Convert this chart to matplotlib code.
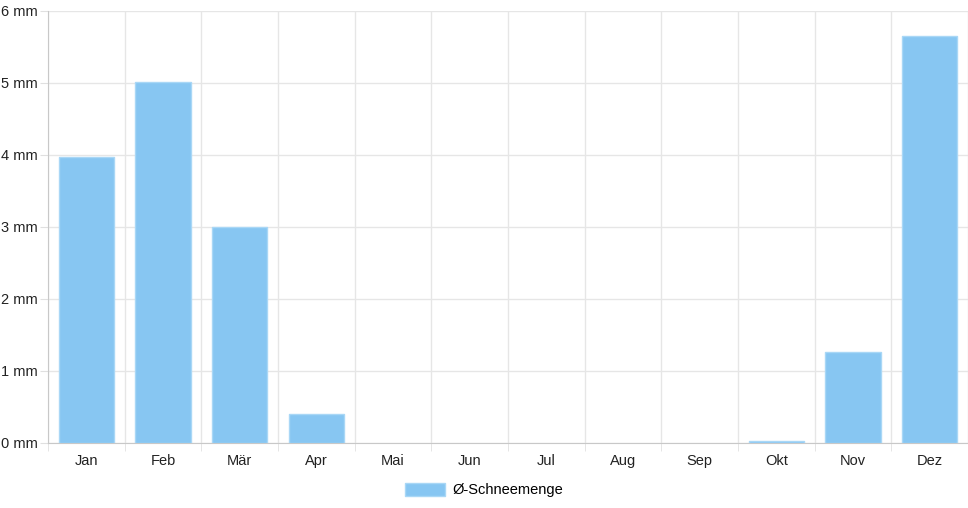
import matplotlib.pyplot as plt
from matplotlib.patches import Patch

# Monatswerte der Schneemenge
monate = ['Jan', 'Feb', 'Mär', 'Apr', 'Mai', 'Jun', 'Jul', 'Aug', 'Sep', 'Okt', 'Nov', 'Dez']
schnee = [3.97, 5.01, 3.0, 0.4, 0, 0, 0, 0, 0, 0.03, 1.26, 5.65]
y_ticks = [0, 1, 2, 3, 4, 5, 6]

plt.rcParams['font.family'] = ['Liberation Sans', 'DejaVu Sans']

fig = plt.figure(figsize=(9.68, 5.08), dpi=100)
ax = fig.add_axes([48 / 968, 1 - 443 / 508, 920 / 968, 432 / 508])

x = list(range(len(monate)))
# Balken ohne Wert bekommen keinen Rand
rand = [1 if v > 0 else 0 for v in schnee]
ax.bar(x, schnee, width=0.72, color='#87c6f2', edgecolor='#a9d7f6', linewidth=rand, zorder=3)

ax.set_xlim(-0.5, len(monate) - 0.5)
ax.set_ylim(0, 6)
ax.set_yticks(y_ticks)
ax.set_yticklabels([f'{v} mm' for v in y_ticks])
ax.set_xticks(x)
ax.set_xticklabels(monate)
ax.set_xticks([i - 0.5 for i in range(len(monate) + 1)], minor=True)

ax.grid(False)
for v in y_ticks:
    ax.axhline(v, color='#e6e6e6', linewidth=1, zorder=1)
for b in range(len(monate) + 1):
    ax.axvline(b - 0.5, color='#e6e6e6', linewidth=1, zorder=1)

for s in ['top', 'right']:
    ax.spines[s].set_visible(False)
ax.spines['left'].set_color('#c8c8c8')
ax.spines['bottom'].set_color('#c8c8c8')

ax.tick_params(axis='x', which='major', length=0, pad=8, labelsize=10.5, labelcolor='#222222')
ax.tick_params(axis='x', which='minor', length=5.8, color='#e0e0e0')
ax.tick_params(axis='y', length=5.8, color='#e0e0e0', pad=1.5, labelsize=10.5, labelcolor='#222222')

leg = fig.legend(handles=[Patch(facecolor='#87c6f2', edgecolor='#a9d7f6', label='Ø-Schneemenge')],
                 loc='center', bbox_to_anchor=(0.5, 1 - 490 / 508), frameon=False,
                 fontsize=10.5, handlelength=2.8, handleheight=1.0, handletextpad=0.5)

fig.savefig('out.png', dpi=100)
